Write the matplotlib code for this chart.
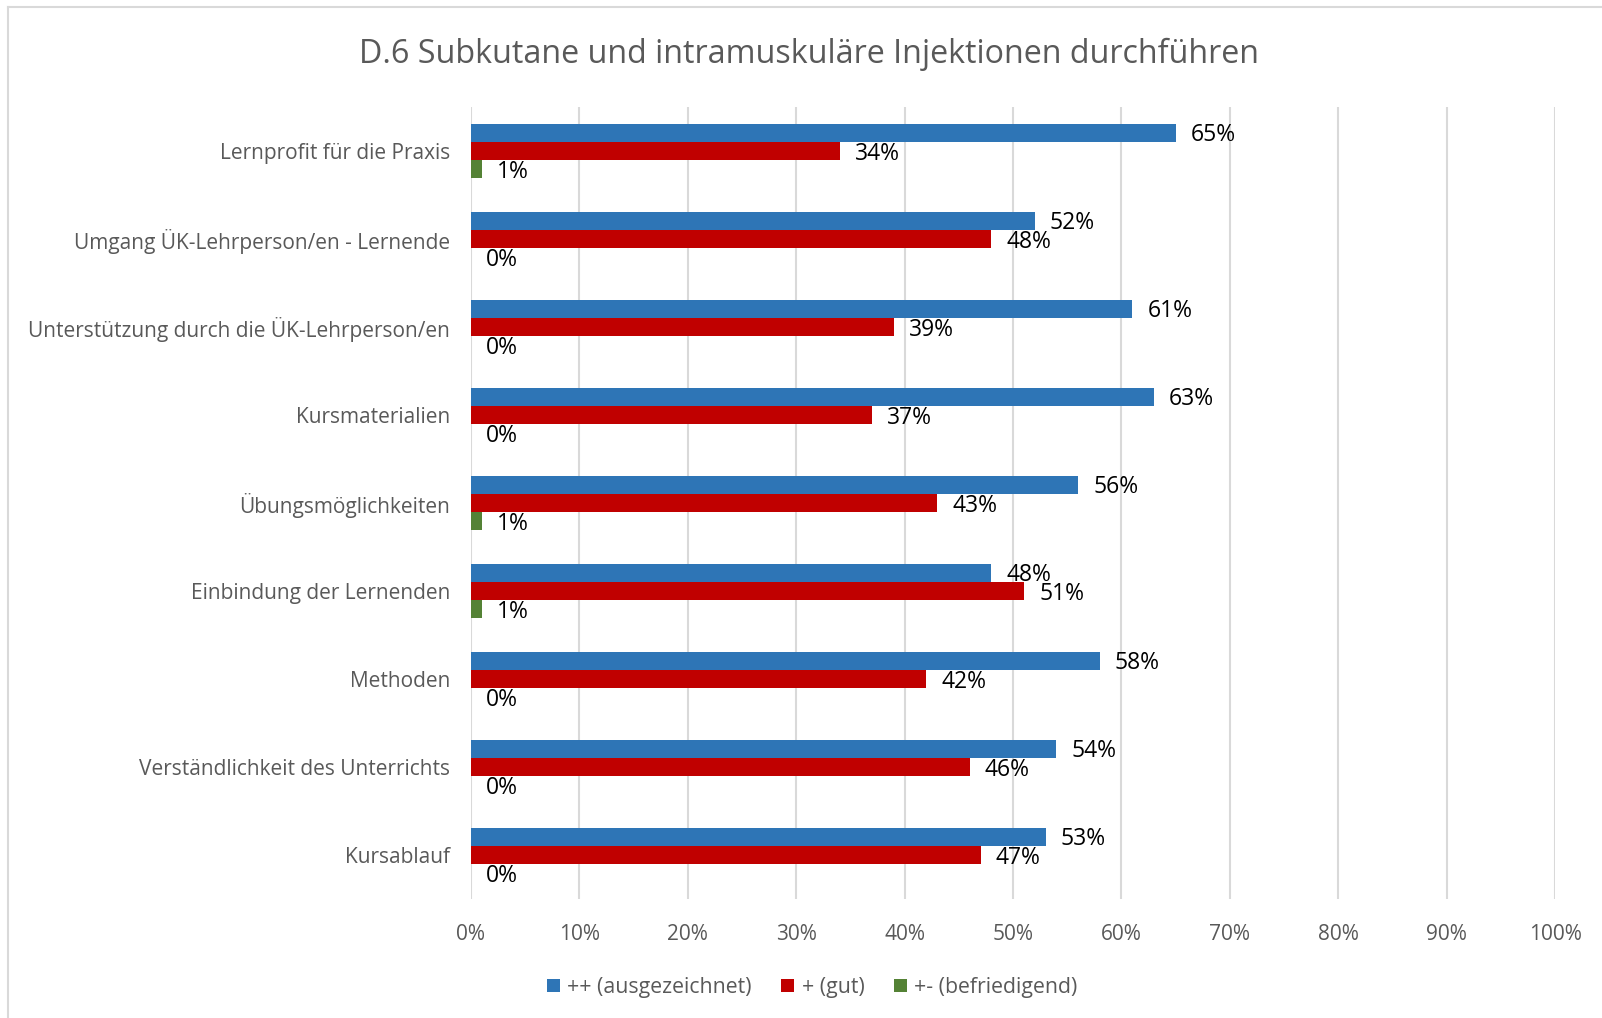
import numpy as np
import matplotlib.pyplot as plt
from matplotlib.lines import Line2D
from matplotlib.patches import Patch
from matplotlib.ticker import MultipleLocator, FuncFormatter

plt.rcParams['font.family'] = ['Open Sans', 'DejaVu Sans']

categories = [
    'Lernprofit für die Praxis',
    'Umgang ÜK-Lehrperson/en - Lernende',
    'Unterstützung durch die ÜK-Lehrperson/en',
    'Kursmaterialien',
    'Übungsmöglichkeiten',
    'Einbindung der Lernenden',
    'Methoden',
    'Verständlichkeit des Unterrichts',
    'Kursablauf',
]
ausgezeichnet = [65, 52, 61, 63, 56, 48, 58, 54, 53]
gut = [34, 48, 39, 37, 43, 51, 42, 46, 47]
befriedigend = [1, 0, 0, 0, 1, 1, 0, 0, 0]

series = [
    ('++ (ausgezeichnet)', ausgezeichnet, '#2E75B6'),
    ('+ (gut)', gut, '#C00000'),
    ('+- (befriedigend)', befriedigend, '#548235'),
]

grey = '#595959'

fig = plt.figure(figsize=(16.02, 10.18), dpi=100)
ax = fig.add_axes([0.294, 0.1169, 0.6767, 0.778])

y = np.arange(len(categories))
h = 0.208
for i, (name, vals, col) in enumerate(series):
    pos = y + (i - 1) * h
    ax.barh(pos, vals, height=h, color=col, label=name, zorder=3)
    for p, v in zip(pos, vals):
        ax.text(v + 1.4, p + 0.03, f'{v}%', va='center', ha='left',
                fontsize=16.5, color='black', zorder=4)

ax.set_xlim(0, 100)
ax.set_ylim(len(categories) - 0.5, -0.5)
ax.set_yticks(y)
ax.set_yticklabels(categories, fontsize=15, color=grey)
ax.xaxis.set_major_locator(MultipleLocator(10))
ax.xaxis.set_major_formatter(FuncFormatter(lambda v, _: f'{v:.0f}%'))
ax.tick_params(axis='x', labelsize=15, labelcolor=grey, length=0, pad=18)
ax.tick_params(axis='y', length=0, pad=15)
ax.grid(axis='x', color='#D9D9D9', linewidth=1.5, zorder=0)
for s in ax.spines.values():
    s.set_visible(False)

fig.text(0.505, 0.947, 'D.6 Subkutane und intramuskuläre Injektionen durchführen',
         ha='center', va='center', fontsize=23.2, color=grey)

handles = [Patch(facecolor=c, label=n) for n, _, c in series]
fig.legend(handles=handles, loc='center', bbox_to_anchor=(0.507, 0.03),
           ncol=3, frameon=False, fontsize=15.3, labelcolor=grey,
           handlelength=0.6, handleheight=0.6, handletextpad=0.35,
           columnspacing=1.4)

# outer chart border (left and top only visible)
fig.add_artist(Line2D([8 / 1602, 8 / 1602], [0, 1 - 7 / 1018],
                      transform=fig.transFigure, color='#D9D9D9', lw=1.5))
fig.add_artist(Line2D([8 / 1602, 1], [1 - 7 / 1018, 1 - 7 / 1018],
                      transform=fig.transFigure, color='#D9D9D9', lw=1.5))

fig.savefig('out.png', dpi=100, facecolor='white')
